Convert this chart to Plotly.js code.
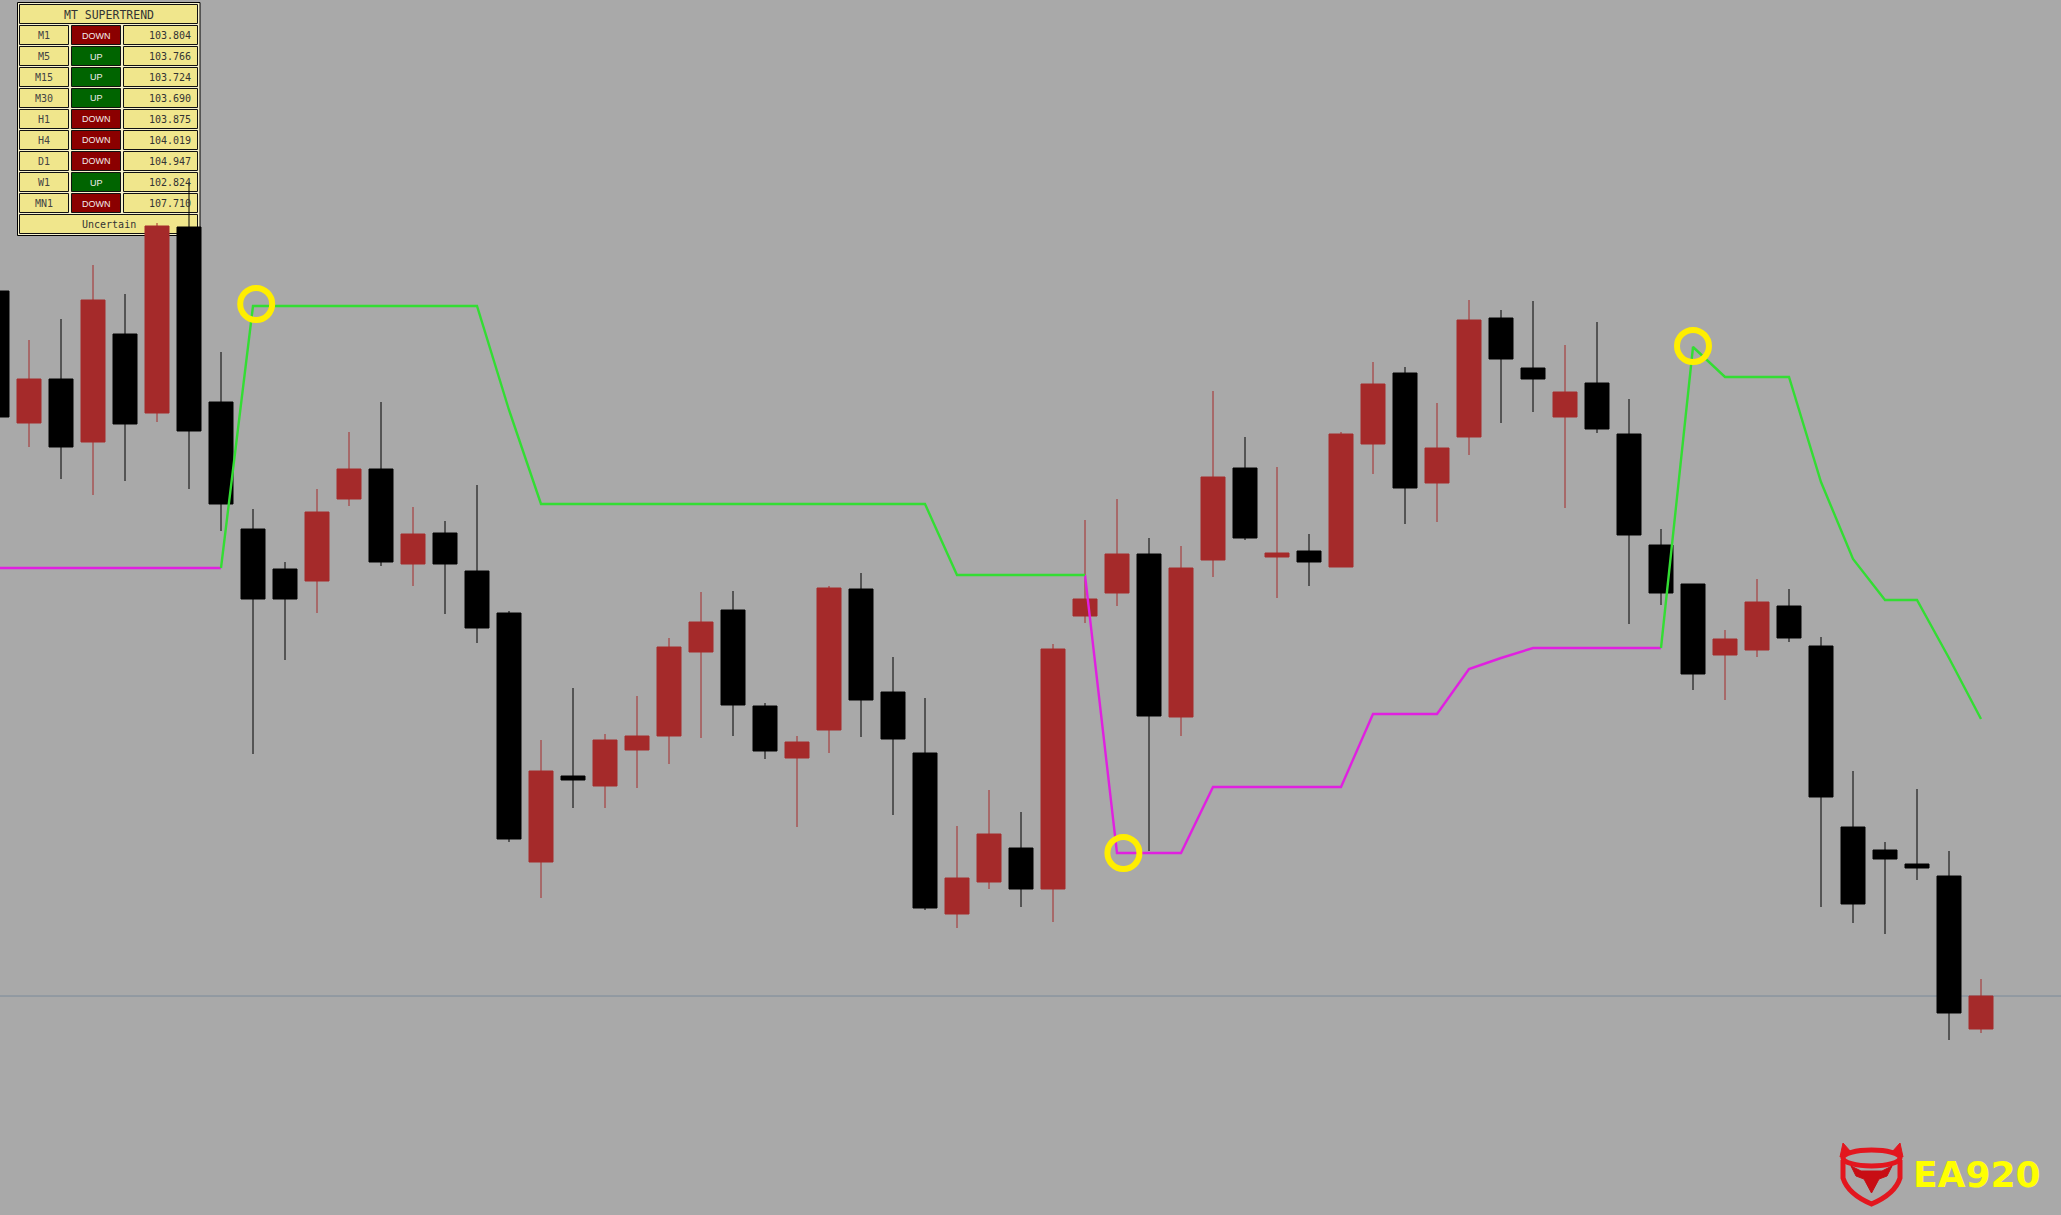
<!DOCTYPE html>
<html>
<head>
<meta charset="utf-8">
<script src="https://cdn.plot.ly/plotly-3.0.1.min.js"></script>
<style>
html,body{margin:0;padding:0;background:#a9a9a9;overflow:hidden}
#chart{width:2061px;height:1215px}
</style>
</head>
<body>
<div id="chart"></div>
<script>
// ---------------- DATA ----------------
const barIndex = [0,1,2,3,4,5,6,7,8,9,10,11,12,13,14,15,16,17,18,19,20,21,22,23,24,25,26,27,28,29,30,
  31,32,33,34,35,36,37,38,39,40,41,42,43,44,45,46,47,48,49,50,51,52,53,54,55,56,57,58,59,60,61,62];

const openPrice = [104.709,104.577,104.621,104.558,104.666,104.587,104.773,104.598,104.471,104.431,
  104.419,104.501,104.531,104.436,104.467,104.429,104.387,104.138,104.224,104.214,
  104.250,104.264,104.348,104.390,104.294,104.242,104.270,104.411,104.308,104.247,
  104.086,104.118,104.152,104.111,104.384,104.407,104.446,104.283,104.440,104.532,
  104.443,104.449,104.433,104.556,104.627,104.517,104.563,104.682,104.632,104.583,
  104.617,104.566,104.455,104.416,104.345,104.350,104.394,104.354,104.173,104.150,
  104.136,104.124,103.971];

const highPrice = [104.709,104.660,104.681,104.735,104.706,104.777,104.818,104.648,104.491,104.438,
  104.511,104.568,104.598,104.493,104.479,104.515,104.389,104.260,104.312,104.266,
  104.304,104.362,104.408,104.409,104.297,104.264,104.414,104.427,104.343,104.302,
  104.174,104.210,104.188,104.356,104.480,104.501,104.462,104.454,104.609,104.563,
  104.533,104.466,104.568,104.638,104.633,104.597,104.700,104.690,104.699,104.655,
  104.678,104.601,104.471,104.416,104.370,104.421,104.411,104.363,104.229,104.158,
  104.211,104.149,104.021];

const lowPrice = [104.583,104.553,104.521,104.505,104.519,104.578,104.511,104.469,104.246,104.340,
  104.387,104.494,104.434,104.414,104.386,104.357,104.158,104.102,104.192,104.192,
  104.212,104.236,104.262,104.264,104.241,104.173,104.247,104.263,104.185,104.090,
  104.072,104.111,104.093,104.078,104.377,104.394,104.149,104.264,104.423,104.460,
  104.402,104.414,104.433,104.526,104.476,104.478,104.545,104.577,104.588,104.492,
  104.567,104.376,104.395,104.310,104.300,104.343,104.358,104.093,104.077,104.066,
  104.120,103.960,103.967];

const closePrice = [104.583,104.621,104.553,104.700,104.576,104.774,104.569,104.496,104.401,104.401,
  104.488,104.531,104.438,104.466,104.436,104.372,104.161,104.229,104.220,104.260,
  104.264,104.353,104.378,104.295,104.249,104.258,104.412,104.300,104.261,104.092,
  104.122,104.166,104.111,104.351,104.401,104.446,104.284,104.432,104.523,104.462,
  104.447,104.438,104.566,104.616,104.512,104.552,104.680,104.641,104.621,104.608,
  104.571,104.465,104.407,104.326,104.361,104.398,104.362,104.203,104.096,104.141,
  104.132,103.987,104.004];

// SuperTrend: support line (uptrend, magenta) and resistance line (downtrend, green)
const superTrendUp = [104.432,104.432,104.432,104.432,104.432,104.432,104.432,104.432,null,null,
  null,null,null,null,null,null,null,null,null,null,
  null,null,null,null,null,null,null,null,null,null,
  null,null,null,null,104.425,104.147,104.147,104.147,104.213,104.213,
  104.213,104.213,104.213,104.286,104.286,104.286,104.331,104.342,104.352,104.352,
  104.352,104.352,104.352,null,null,null,null,null,null,null,
  null,null,null];

const superTrendDown = [null,null,null,null,null,null,null,104.432,104.694,104.694,
  104.694,104.694,104.694,104.694,104.694,104.694,104.590,104.496,104.496,104.496,
  104.496,104.496,104.496,104.496,104.496,104.496,104.496,104.496,104.496,104.496,
  104.425,104.425,104.425,104.425,104.425,null,null,null,null,null,
  null,null,null,null,null,null,null,null,null,null,
  null,null,104.352,104.653,104.623,104.623,104.623,104.518,104.441,104.400,
  104.400,104.342,104.281];

// trend-change signals (yellow rings)
const signalX = [8.1, 35.2, 53.0];
const signalY = [104.696, 104.147, 104.654];

// dashboard table
const tableTitle = 'MT SUPERTREND';
const tfLabels = ['M1','M5','M15','M30','H1','H4','D1','W1','MN1'];
const tfTrend  = ['DOWN','UP','UP','UP','DOWN','DOWN','DOWN','UP','DOWN'];
const tfLevel  = [103.804,103.766,103.724,103.690,103.875,104.019,104.947,102.824,107.710];
const tableSummary = 'Uncertain';
const brandText = 'EA920';

// ---------------- DRAWING ----------------
const W = 2061, H = 1215;
const px = x => x / W;
const py = y => 1 - y / H;
const shapes = [];
const annotations = [];

function rect(x0, y0, x1, y1, fill, line, lw) {
  shapes.push({type:'rect', xref:'paper', yref:'paper', layer:'below',
    x0:px(x0), x1:px(x1), y0:py(y1), y1:py(y0),
    fillcolor:fill, line:{color:line, width:lw}});
}
function label(text, x, y, anchor, font) {
  annotations.push({xref:'paper', yref:'paper', x:px(x), y:py(y),
    xanchor:anchor, yanchor:'middle', text:text, showarrow:false, font:font});
}
function pathPx(d) {
  return d.replace(/(-?[\d.]+),(-?[\d.]+)/g, (m, a, b) => px(+a) + ',' + py(+b));
}

const mono = 'DejaVu Sans Mono, Liberation Mono, monospace';
const khaki = '#f0e68c';

// table frame + header
rect(17.5, 2.5, 200, 235.5, '#f7f2cc', '#000000', 1);
rect(19.5, 4.5, 197.5, 23.5, khaki, '#111111', 1);
label(tableTitle, 108.5, 14.5, 'center', {family:mono, size:11.5, color:'#333333'});

for (let i = 0; i < tfLabels.length; i++) {
  const y0 = 25.5 + 21 * i, y1 = y0 + 19, ym = (y0 + y1) / 2;
  const up = tfTrend[i] === 'UP';
  rect(19.5, y0, 68.5, y1, khaki, '#111111', 1);
  rect(71.5, y0, 120.5, y1, up ? '#006400' : '#8b0000', '#111111', 1);
  rect(123.5, y0, 197.5, y1, khaki, '#111111', 1);
  label(tfLabels[i], 44, ym + 0.5, 'center', {family:mono, size:10, color:'#444444'});
  label(tfTrend[i], 96, ym + 0.5, 'center', {family:'Liberation Sans, Arial, sans-serif', size:9, color:'#f2eeee'});
  label(tfLevel[i].toFixed(3), 193, ym + 0.5, 'right', {family:mono, size:10, color:'#333333'});
}
rect(19.5, 214.5, 197.5, 233.5, khaki, '#111111', 1);
label(tableSummary, 108.5, 224.5, 'center', {family:mono, size:10, color:'#333333'});

// current price line
shapes.push({type:'line', xref:'paper', yref:'y', layer:'below', x0:0, x1:1,
  y0:closePrice[closePrice.length - 1], y1:closePrice[closePrice.length - 1],
  line:{color:'#7b8a9a', width:1}});

// logo emblem
const logoRed = '#e3161e';
shapes.push({type:'circle', xref:'paper', yref:'paper', layer:'above',
  x0:px(1843), x1:px(1900), y0:py(1166), y1:py(1150), line:{color:logoRed, width:5}, fillcolor:'rgba(0,0,0,0)'});
shapes.push({type:'path', xref:'paper', yref:'paper', layer:'above',
  path:pathPx('M1840,1157 L1843,1143 L1851,1152 Z'), fillcolor:logoRed, line:{color:logoRed, width:1}});
shapes.push({type:'path', xref:'paper', yref:'paper', layer:'above',
  path:pathPx('M1903,1157 L1900,1143 L1892,1152 Z'), fillcolor:logoRed, line:{color:logoRed, width:1}});
shapes.push({type:'path', xref:'paper', yref:'paper', layer:'above',
  path:pathPx('M1843,1160 L1843,1178 Q1848,1194 1871.5,1204 Q1895,1194 1900,1178 L1900,1160'),
  fillcolor:'rgba(0,0,0,0)', line:{color:logoRed, width:5}});
shapes.push({type:'path', xref:'paper', yref:'paper', layer:'above',
  path:pathPx('M1851,1166 L1861,1171 L1882,1171 L1892,1166 L1887,1176 L1879,1179 L1871.5,1193 L1864,1179 L1856,1176 Z'),
  fillcolor:'#c80d14', line:{color:'#c80d14', width:1}});
label(brandText, 1977, 1174, 'center', {family:'DejaVu Sans, sans-serif', size:36, color:'#ffff00', weight:'bold'});

const traces = [
  {
    type:'candlestick', x:barIndex, open:openPrice, high:highPrice, low:lowPrice, close:closePrice,
    increasing:{line:{color:'#a52a2a', width:1}, fillcolor:'#a52a2a'},
    decreasing:{line:{color:'#000000', width:1}, fillcolor:'#000000'},
    whiskerwidth:0, hoverinfo:'skip'
  },
  {
    type:'scatter', mode:'lines', x:barIndex, y:superTrendUp, connectgaps:false,
    line:{color:'#e020e0', width:2.4}, hoverinfo:'skip'
  },
  {
    type:'scatter', mode:'lines', x:barIndex, y:superTrendDown, connectgaps:false,
    line:{color:'#33dd33', width:2.4}, hoverinfo:'skip'
  },
  {
    type:'scatter', mode:'markers', x:signalX, y:signalY,
    marker:{symbol:'circle-open', size:32, color:'#ffee00', line:{color:'#ffee00', width:6}},
    hoverinfo:'skip'
  }
];

const layout = {
  width:W, height:H,
  margin:{l:0, r:0, t:0, b:0, pad:0},
  paper_bgcolor:'#a9a9a9', plot_bgcolor:'#a9a9a9',
  showlegend:false, hovermode:false, dragmode:false,
  boxgap:0.25, boxgroupgap:0,
  xaxis:{range:[0.09375, 64.5], visible:false, showgrid:false, zeroline:false,
         rangeslider:{visible:false}, fixedrange:true},
  yaxis:{range:[103.785, 105.0], visible:false, showgrid:false, zeroline:false, fixedrange:true},
  shapes:shapes,
  annotations:annotations
};

Plotly.newPlot('chart', traces, layout, {displayModeBar:false, staticPlot:true});
</script>
</body>
</html>
